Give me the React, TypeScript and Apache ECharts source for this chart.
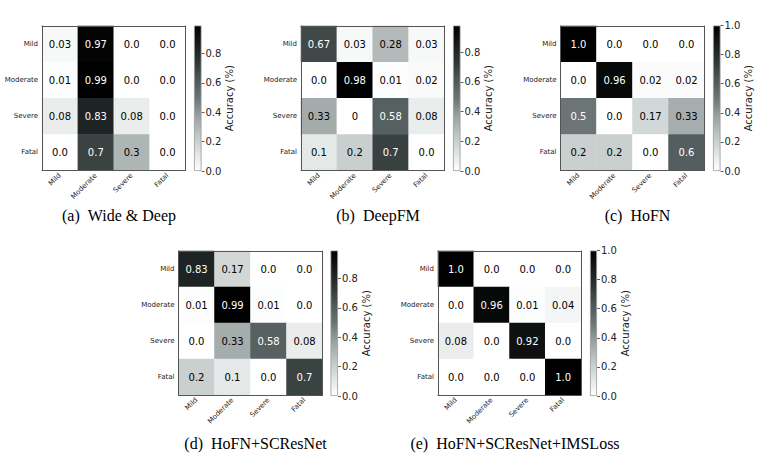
import React, { useEffect, useRef } from "react";
import * as echarts from "echarts";

const classes = ["Mild", "Moderate", "Severe", "Fatal"];
const colorbarTicks = [0, 0.2, 0.4, 0.6, 0.8, 1.0];

const wideDeep = [
  ["0.03", "0.97", "0.0", "0.0"],
  ["0.01", "0.99", "0.0", "0.0"],
  ["0.08", "0.83", "0.08", "0.0"],
  ["0.0", "0.7", "0.3", "0.0"],
];
const deepFM = [
  ["0.67", "0.03", "0.28", "0.03"],
  ["0.0", "0.98", "0.01", "0.02"],
  ["0.33", "0", "0.58", "0.08"],
  ["0.1", "0.2", "0.7", "0.0"],
];
const hoFN = [
  ["1.0", "0.0", "0.0", "0.0"],
  ["0.0", "0.96", "0.02", "0.02"],
  ["0.5", "0.0", "0.17", "0.33"],
  ["0.2", "0.2", "0.0", "0.6"],
];
const hoFNSCResNet = [
  ["0.83", "0.17", "0.0", "0.0"],
  ["0.01", "0.99", "0.01", "0.0"],
  ["0.0", "0.33", "0.58", "0.08"],
  ["0.2", "0.1", "0.0", "0.7"],
];
const hoFNSCResNetIMSLoss = [
  ["1.0", "0.0", "0.0", "0.0"],
  ["0.0", "0.96", "0.01", "0.04"],
  ["0.08", "0.0", "0.92", "0.0"],
  ["0.0", "0.0", "0.0", "1.0"],
];

const captions = [
  "(a)\u2002Wide & Deep",
  "(b)\u2002DeepFM",
  "(c)\u2002HoFN",
  "(d)\u2002HoFN+SCResNet",
  "(e)\u2002HoFN+SCResNet+IMSLoss",
];

const greys = ["#ffffff", "#dee3e2", "#bdc4c3", "#99a1a1", "#6b7576", "#4f5858", "#303636", "#171b1b", "#000000"];

// layout: heatmap grid, colorbar grid, caption position
const layouts = [
  { h: [42, 26, 143.5, 144.5], c: [194, 25.5, 7.5, 145.5], cap: [119, 215] },
  { h: [301, 26, 143.5, 144.5], c: [453, 25.5, 7.5, 145.5], cap: [378, 215] },
  { h: [560.5, 26, 144, 144.5], c: [713, 25.5, 7.5, 145.5], cap: [637.5, 215] },
  { h: [178.5, 251, 144, 144], c: [330.5, 250.5, 7.5, 145.5], cap: [255.5, 443] },
  { h: [438, 251, 143, 144], c: [590, 250.5, 7, 145.5], cap: [515, 443] },
];

const matrices = [wideDeep, deepFM, hoFN, hoFNSCResNet, hoFNSCResNetIMSLoss];

const FONT = "DejaVu Sans";

export default function App() {
  const ref = useRef<HTMLDivElement>(null);
  useEffect(() => {
    if (!ref.current) return;
    const chart = echarts.init(ref.current, undefined, { renderer: "svg" });
    const option: any = {
      animation: false,
      grid: [],
      xAxis: [],
      yAxis: [],
      series: [],
      visualMap: [],
      graphic: [],
    };
    const border = { show: true, lineStyle: { color: "#555", width: 1 } };
    matrices.forEach((m, i) => {
      const L = layouts[i];
      const vals = m.map((r) => r.map(Number));
      const vmax = Math.max(...vals.flat());
      const gH = option.grid.length;
      option.grid.push({ left: L.h[0], top: L.h[1], width: L.h[2], height: L.h[3] });
      const gC = option.grid.length;
      option.grid.push({ left: L.c[0], top: L.c[1], width: L.c[2], height: L.c[3] });

      const xi = option.xAxis.length;
      option.xAxis.push({
        type: "category", gridIndex: gH, data: classes, position: "bottom", z: 10,
        axisLine: border, axisTick: { show: false }, splitLine: { show: false },
        axisLabel: { rotate: 45, fontSize: 7, color: "#222", margin: 4, interval: 0, fontFamily: FONT },
      });
      option.xAxis.push({
        type: "category", gridIndex: gH, data: classes, position: "top", z: 10,
        axisLine: border, axisTick: { show: false }, axisLabel: { show: false }, splitLine: { show: false },
      });
      const yi = option.yAxis.length;
      option.yAxis.push({
        type: "category", gridIndex: gH, data: classes, inverse: true, position: "left", z: 10,
        axisLine: border, axisTick: { show: false }, splitLine: { show: false },
        axisLabel: { fontSize: 7, color: "#222", margin: 4, fontFamily: FONT },
      });
      option.yAxis.push({
        type: "category", gridIndex: gH, data: classes, inverse: true, position: "right", z: 10,
        axisLine: border, axisTick: { show: false }, axisLabel: { show: false }, splitLine: { show: false },
      });

      const ticks = colorbarTicks.filter((t) => t <= vmax + 1e-9);
      const cxi = option.xAxis.length;
      option.xAxis.push({ type: "category", gridIndex: gC, data: ["cb"], show: false });
      const cyi = option.yAxis.length;
      option.yAxis.push({
        type: "value", gridIndex: gC, min: 0, max: vmax, position: "right",
        axisLine: { show: false }, splitLine: { show: false },
        axisTick: { show: true, length: 3, customValues: ticks, lineStyle: { color: "#333", width: 0.8 } },
        axisLabel: {
          customValues: ticks, fontSize: 10, color: "#222", margin: 4, fontFamily: FONT,
          formatter: (v: number) => v.toFixed(1),
        },
        name: "Accuracy (%)", nameLocation: "middle", nameRotate: 90, nameGap: 23, nameMoveOverlap: false,
        nameTextStyle: { fontSize: 10, color: "#222", fontFamily: FONT },
      });

      const data: any[] = [];
      m.forEach((row, r) =>
        row.forEach((txt, c) => {
          const v = Number(txt);
          data.push({ value: [c, r, v], text: txt, label: { color: v >= vmax / 2 ? "#ffffff" : "#000000" } });
        })
      );
      const si = option.series.length;
      option.series.push({
        type: "heatmap", xAxisIndex: xi, yAxisIndex: yi, data,
        label: { show: true, fontSize: 10, fontFamily: FONT, formatter: (p: any) => p.data.text },
        emphasis: { disabled: true },
      });
      option.visualMap.push({
        type: "continuous", show: false, seriesIndex: si, min: 0, max: vmax, dimension: 2,
        inRange: { color: greys },
      });
      option.series.push({
        type: "bar", xAxisIndex: cxi, yAxisIndex: cyi, data: [vmax], barWidth: "100%", silent: true,
        itemStyle: {
          color: new echarts.graphic.LinearGradient(
            0, 0, 0, 1,
            greys.slice().reverse().map((col, k) => ({ offset: k / (greys.length - 1), color: col }))
          ),
          borderColor: "#9a9a9a", borderWidth: 0.8,
        },
      });
      option.graphic.push({
        type: "text", x: L.cap[0], y: L.cap[1],
        style: {
          text: captions[i], fontSize: 16, fontFamily: "Liberation Serif", fill: "#000",
          align: "center", verticalAlign: "middle",
        },
      });
    });
    chart.setOption(option);
    return () => chart.dispose();
  }, []);
  return <div ref={ref} style={{ position: "fixed", left: 0, top: 0, width: 764, height: 461, background: "#fff" }} />;
}
